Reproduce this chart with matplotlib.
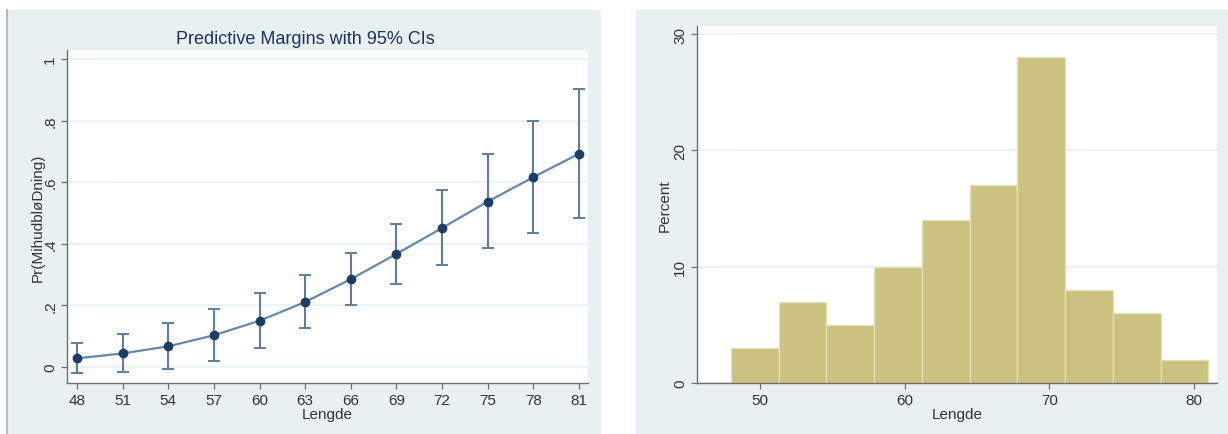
import matplotlib
matplotlib.use("Agg")
import matplotlib.pyplot as plt
from matplotlib.patches import Rectangle
from matplotlib.lines import Line2D
import numpy as np

plt.rcParams['font.family'] = ['Liberation Sans', 'DejaVu Sans']

# Predictive margins by height (Lengde)
lengde = [48, 51, 54, 57, 60, 63, 66, 69, 72, 75, 78, 81]
margin = [0.028, 0.044, 0.067, 0.103, 0.150, 0.211, 0.285, 0.367, 0.451, 0.537, 0.616, 0.692]
ci_low = [-0.018, -0.016, -0.005, 0.019, 0.062, 0.126, 0.200, 0.271, 0.331, 0.386, 0.435, 0.483]
ci_high = [0.077, 0.106, 0.144, 0.188, 0.240, 0.299, 0.371, 0.465, 0.574, 0.690, 0.799, 0.904]
margin_yticks = [0, 0.2, 0.4, 0.6, 0.8, 1.0]
margin_ylabels = ['0', '.2', '.4', '.6', '.8', '1']

# Histogram of Lengde (percent per bin)
bin_edges = [48.0, 51.3, 54.6, 57.9, 61.2, 64.5, 67.8, 71.1, 74.4, 77.7, 81.0]
percent = [3, 7, 5, 10, 14, 17, 28, 8, 6, 2]
hist_xticks = [50, 60, 70, 80]
hist_yticks = [0, 10, 20, 30]

W, H = 1228, 435
BG = '#e8f0f2'
GRID = '#eaf1f3'
AXC = '#6e6e6e'
TXT = '#333333'


def px_axes(fig, x0, y0, x1, y1):
    # pixel box (top-left origin) -> figure axes
    return fig.add_axes([x0 / W, 1 - y1 / H, (x1 - x0) / W, (y1 - y0) / H])


def style(ax):
    ax.set_facecolor('white')
    for s in ['top', 'right']:
        ax.spines[s].set_visible(False)
    for s in ['left', 'bottom']:
        ax.spines[s].set_color(AXC)
        ax.spines[s].set_linewidth(1.0)
    ax.tick_params(colors=AXC, labelcolor=TXT, labelsize=11, length=4, width=0.9, pad=3)
    ax.tick_params(axis='y', labelrotation=90)
    for lab in ax.get_yticklabels():
        lab.set_va('center')


fig = plt.figure(figsize=(W / 100, H / 100), dpi=100)
fig.patch.set_facecolor('white')

# panel backgrounds
fig.add_artist(Rectangle((7 / W, 0), (601 - 7) / W, (H - 11) / H,
                         transform=fig.transFigure, facecolor=BG, edgecolor='none', zorder=0))
fig.add_artist(Line2D([7 / W, 7 / W], [0, 1 - 11 / H], transform=fig.transFigure,
                      color='#b8b8b8', lw=1.5))
fig.add_artist(Rectangle((636 / W, 0), (W - 636) / W, (H - 11) / H,
                         transform=fig.transFigure, facecolor=BG, edgecolor='none', zorder=0))

# left: margins plot
ax1 = px_axes(fig, 67, 51, 588, 384)
ax1.set_xlim(47.34, 81.6)
ax1.set_ylim(-0.052, 1.029)
for yv in margin_yticks:
    ax1.axhline(yv, color=GRID, lw=1.2, zorder=0)
yerr = [np.array(margin) - np.array(ci_low), np.array(ci_high) - np.array(margin)]
ax1.errorbar(lengde, margin, yerr=yerr, fmt='none', ecolor='#5d7ea2', elinewidth=1.5,
             capsize=4, capthick=1.4, zorder=2)
ax1.plot(lengde, margin, color='#6688ad', lw=1.6, zorder=3)
ax1.plot(lengde, margin, 'o', color='#1a3f66', ms=6, zorder=4)
ax1.set_xticks(lengde)
ax1.set_yticks(margin_yticks)
ax1.set_yticklabels(margin_ylabels)
style(ax1)
ax1.set_xlabel('Lengde', fontsize=11, color=TXT, labelpad=0)
ax1.set_ylabel('Pr(MihudbløDning)', fontsize=11, color=TXT, labelpad=-1)
fig.text(305 / W, 1 - 40 / H, 'Predictive Margins with 95% CIs', ha='center', va='center',
         fontsize=13, color='#1e3160')

# right: histogram
ax2 = px_axes(fig, 697, 27, 1217, 384)
ax2.set_xlim(45.65, 81.59)
ax2.set_ylim(0, 30.69)
for yv in hist_yticks:
    ax2.axhline(yv, color=GRID, lw=1.2, zorder=0)
ax2.bar(bin_edges[:-1], percent, width=np.diff(bin_edges), align='edge',
        color='#cbc280', edgecolor='#e4e0b8', linewidth=1.0, zorder=2)
ax2.set_xticks(hist_xticks)
ax2.set_yticks(hist_yticks)
style(ax2)
ax2.set_xlabel('Lengde', fontsize=11, color=TXT, labelpad=0)
ax2.set_ylabel('Percent', fontsize=11, color=TXT, labelpad=1)

fig.savefig('out.png', dpi=100, facecolor=fig.get_facecolor())
